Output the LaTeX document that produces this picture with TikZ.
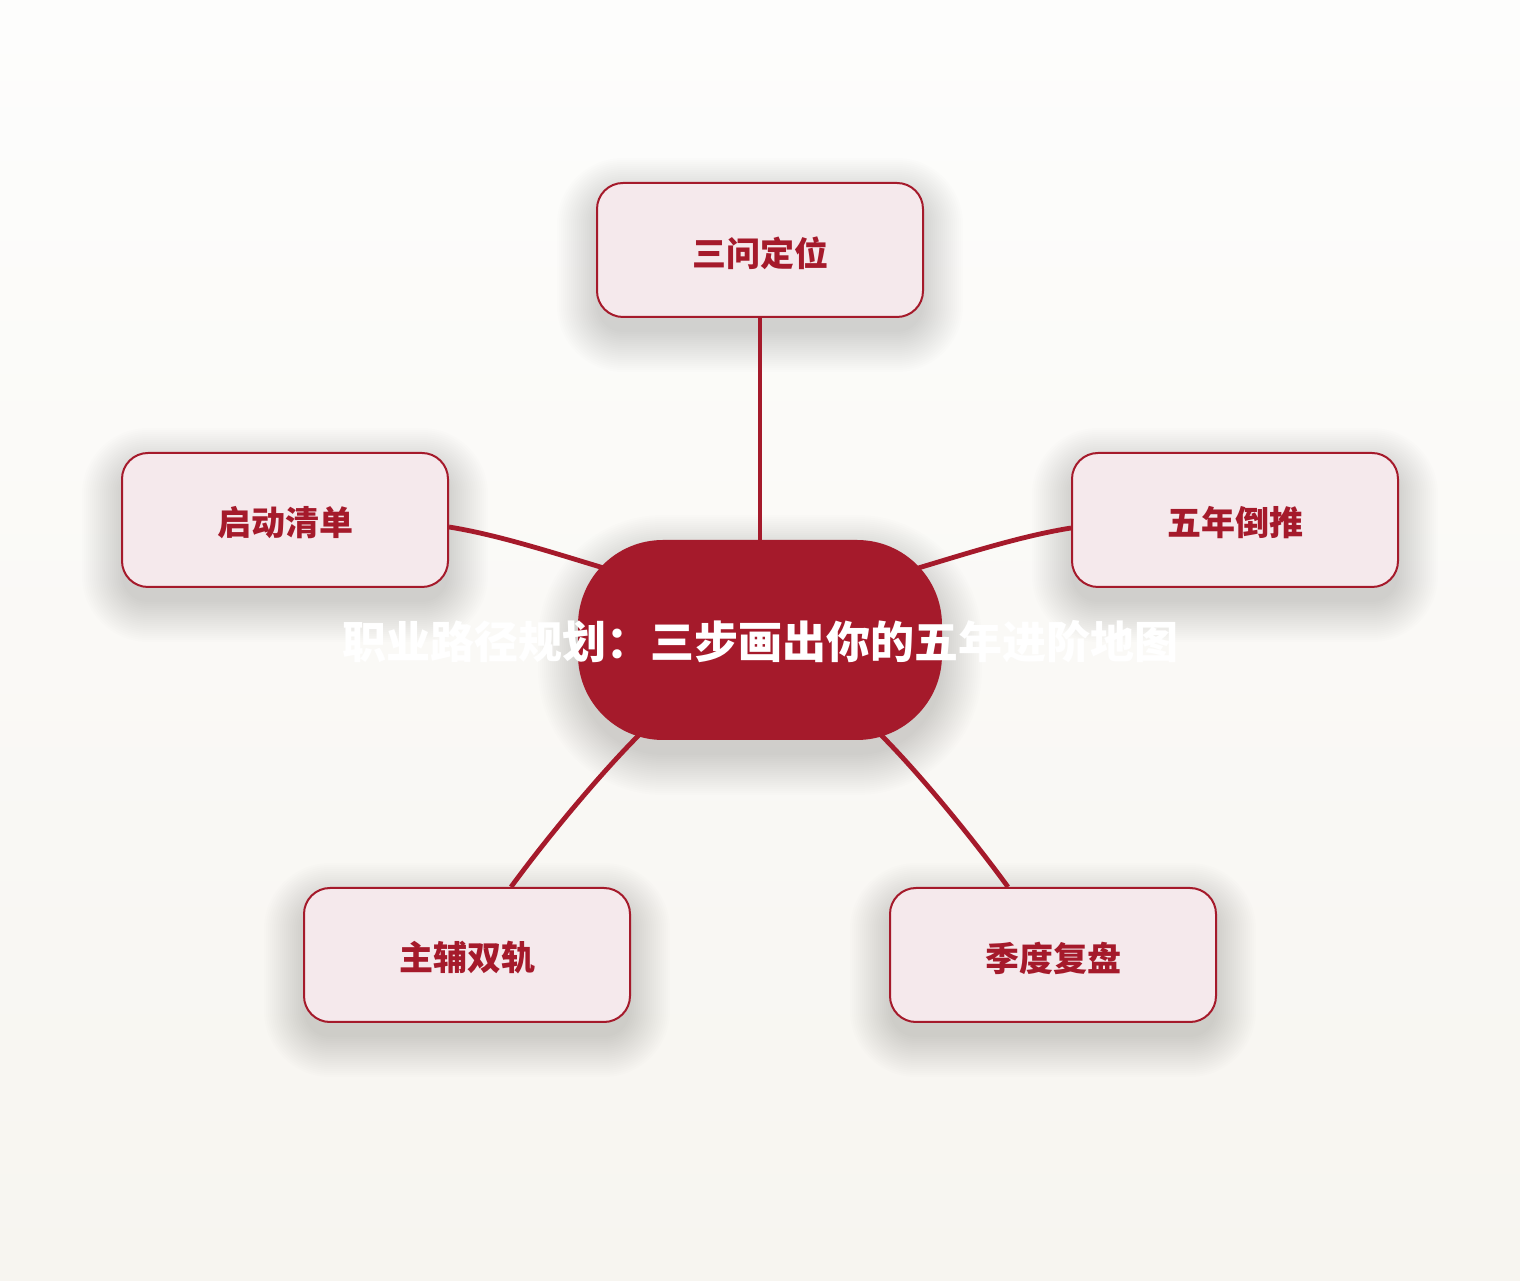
\documentclass[tikz,border=0pt]{standalone}
\usepackage{fontspec}
\setmainfont{Noto Sans CJK SC}
\usetikzlibrary{calc,backgrounds}
\definecolor{brandred}{HTML}{A51A2B}
\definecolor{satfill}{HTML}{F5E9EC}
\definecolor{bgtop}{HTML}{FDFDFC}
\definecolor{bgbot}{HTML}{F7F5F0}
\tikzset{
  sat/.style={draw=brandred, line width=2pt, fill=satfill, rounded corners=26pt,
    minimum width=326pt, minimum height=134pt, inner sep=0pt, text=brandred,
    font=\fontsize{34}{40}\selectfont\bfseries},
  hub/.style={fill=brandred, rounded corners=85pt, minimum width=364pt,
    minimum height=200pt, inner sep=0pt},
  titletext/.style={text=white, inner sep=0pt, font=\fontsize{44}{50}\selectfont\bfseries},
  link/.style={draw=brandred, line width=4.8pt},
  shadelayer/.style={fill=black, fill opacity=0.0095}
}
\newcommand\lowtext[1]{\raisebox{-3pt}[\height][\depth]{#1}}
% #1 node name, #2 half width, #3 half height, #4 corner radius
\newcommand\dropshade[4]{%
  \foreach \k in {0,2,...,40}{%
    \fill[shadelayer, rounded corners={#4+\k}]
      ($(#1.center)+(-#2-\k,-#3-15-\k)$) rectangle ($(#1.center)+(#2+\k,#3-15+\k)$);
  }%
}
\begin{document}
\begin{tikzpicture}[x=1pt,y=1pt]
\useasboundingbox (0,0) rectangle (1520,1280);

\node[hub] (c) at (760,640) {};
\node[sat] (s1) at (760,1030) {\lowtext{三问定位}};
\node[sat] (s2) at (285,760) {\lowtext{启动清单}};
\node[sat] (s3) at (1235,760) {\lowtext{五年倒推}};
\node[sat] (s4) at (467,325) {\lowtext{主辅双轨}};
\node[sat] (s5) at (1053,325) {\lowtext{季度复盘}};

\begin{scope}[on background layer]
  \shade[top color=bgtop,bottom color=bgbot] (0,0) rectangle (1520,1280);
  \dropshade{c}{182}{100}{85}
  \dropshade{s1}{163}{67}{26}
  \dropshade{s2}{163}{67}{26}
  \dropshade{s3}{163}{67}{26}
  \dropshade{s4}{163}{67}{26}
  \dropshade{s5}{163}{67}{26}
\end{scope}

\draw[link] (s1.south) -- (c.north);
\draw[link] ($(s2.east)+(0,-7)$) .. controls +(50,-8) and +(-50,15) .. ($(c.center)+(-153,71)$);
\draw[link] ($(s3.west)+(0,-8)$) .. controls +(-50,-8) and +(50,15) .. ($(c.center)+(155,71)$);
\draw[link] ($(s4.north)+(44,0)$) .. controls +(35,48) and +(-40,-40) .. ($(c.center)+(-120,-94)$);
\draw[link] ($(s5.north)+(-45,0)$) .. controls +(-35,48) and +(40,-40) .. ($(c.center)+(120,-94)$);

\node[titletext] (t) at ($(c.center)+(0,-2)$) {职业路径规划：三步画出你的五年进阶地图};
\end{tikzpicture}
\end{document}
